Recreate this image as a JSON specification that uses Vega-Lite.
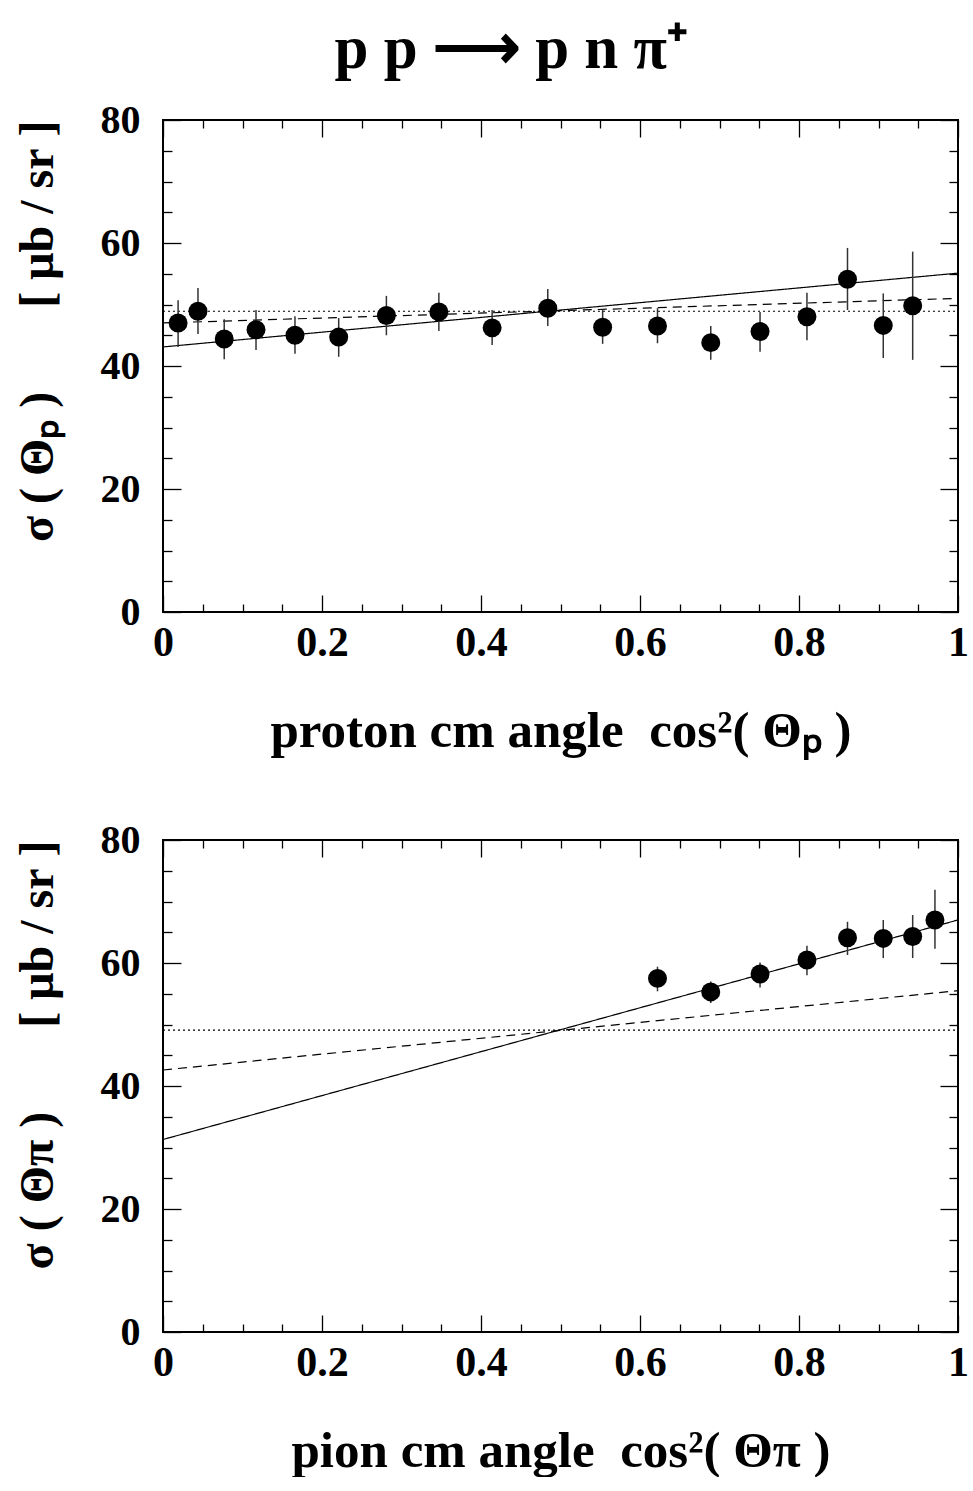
{
  "$schema": "https://vega.github.io/schema/vega-lite/v6.json",
  "background": "white",
  "padding": {"left": 12, "top": 19, "right": 12, "bottom": 0},
  "title": {"text": "p p ⟶ p n π⁺", "font": "Liberation Serif", "fontSize": 61, "fontWeight": "bold", "color": "black", "anchor": "middle", "offset": 18, "dx": 20},
  "spacing": 62,
  "datasets": {
    "top_pts": [
      {"x": 0.019, "y": 47.0, "lo": 43.1, "hi": 50.7},
      {"x": 0.044, "y": 48.9, "lo": 45.2, "hi": 52.7},
      {"x": 0.077, "y": 44.4, "lo": 41.1, "hi": 47.6},
      {"x": 0.117, "y": 45.9, "lo": 42.6, "hi": 49.1},
      {"x": 0.166, "y": 45.0, "lo": 42.0, "hi": 48.1},
      {"x": 0.221, "y": 44.7, "lo": 41.5, "hi": 47.8},
      {"x": 0.281, "y": 48.2, "lo": 45.0, "hi": 51.4},
      {"x": 0.347, "y": 48.8, "lo": 45.7, "hi": 51.9},
      {"x": 0.414, "y": 46.2, "lo": 43.4, "hi": 49.1},
      {"x": 0.484, "y": 49.4, "lo": 46.5, "hi": 52.5},
      {"x": 0.553, "y": 46.3, "lo": 43.6, "hi": 49.1},
      {"x": 0.622, "y": 46.5, "lo": 43.7, "hi": 49.4},
      {"x": 0.689, "y": 43.8, "lo": 41.0, "hi": 46.5},
      {"x": 0.751, "y": 45.6, "lo": 42.3, "hi": 48.8},
      {"x": 0.810, "y": 48.0, "lo": 44.2, "hi": 51.9},
      {"x": 0.861, "y": 54.1, "lo": 49.1, "hi": 59.2},
      {"x": 0.906, "y": 46.6, "lo": 41.3, "hi": 51.8},
      {"x": 0.943, "y": 49.8, "lo": 41.0, "hi": 58.6}
    ],
    "top_lines": [
      {"x": 0, "y": 43.1, "style": "solid"},
      {"x": 1, "y": 55.1, "style": "solid"},
      {"x": 0, "y": 47.0, "style": "dashed"},
      {"x": 1, "y": 51.0, "style": "dashed"},
      {"x": 0, "y": 48.9, "style": "dotted"},
      {"x": 1, "y": 48.9, "style": "dotted"}
    ],
    "bot_pts": [
      {"x": 0.622, "y": 57.5, "lo": 55.4, "hi": 59.4},
      {"x": 0.689, "y": 55.3, "lo": 53.5, "hi": 57.0},
      {"x": 0.751, "y": 58.2, "lo": 56.0, "hi": 60.1},
      {"x": 0.810, "y": 60.5, "lo": 58.0, "hi": 62.8},
      {"x": 0.861, "y": 64.1, "lo": 61.3, "hi": 66.7},
      {"x": 0.906, "y": 64.0, "lo": 60.8, "hi": 67.0},
      {"x": 0.943, "y": 64.3, "lo": 60.8, "hi": 67.8},
      {"x": 0.971, "y": 67.0, "lo": 62.3, "hi": 71.9}
    ],
    "bot_lines": [
      {"x": 0, "y": 31.3, "style": "solid"},
      {"x": 1, "y": 67.0, "style": "solid"},
      {"x": 0, "y": 42.6, "style": "dashed"},
      {"x": 1, "y": 55.5, "style": "dashed"},
      {"x": 0, "y": 49.1, "style": "dotted"},
      {"x": 1, "y": 49.1, "style": "dotted"}
    ]
  },
  "config": {
    "view": {"stroke": "black", "strokeWidth": 2},
    "font": "Liberation Serif",
    "axis": {"domain": false, "grid": false, "tickColor": "black", "tickWidth": 1.3, "labelFont": "Liberation Serif", "labelFontWeight": "bold", "labelColor": "black", "titleFont": "Liberation Serif", "titleFontWeight": "bold", "titleColor": "black", "labelFlush": false, "labelOverlap": false, "labelBound": false}
  },
  "vconcat": [
    {
      "width": 795, "height": 492,
      "layer": [
        {
          "data": {"name": "top_lines"},
          "mark": {"type": "line", "color": "black", "strokeWidth": 1.2},
          "encoding": {
            "x": {"field": "x", "type": "quantitative", "scale": {"domain": [0, 1], "nice": false, "zero": false},
              "axis": {"orient": "top", "values": [0,0.05,0.1,0.15,0.2,0.25,0.3,0.35,0.4,0.45,0.5,0.55,0.6,0.65,0.7,0.75,0.8,0.85,0.9,0.95,1], "labels": false, "title": null,
                "tickSize": {"condition": {"test": "round(datum.value*100) % 20 == 0", "value": -17}, "value": -8}}},
            "y": {"field": "y", "type": "quantitative", "scale": {"domain": [0, 80], "nice": false},
              "axis": {"orient": "right", "values": [0,5,10,15,20,25,30,35,40,45,50,55,60,65,70,75,80], "labels": false, "title": null,
                "tickSize": {"condition": {"test": "datum.value % 20 == 0", "value": -18}, "value": -9}}},
            "strokeDash": {"field": "style", "type": "nominal", "scale": {"domain": ["solid", "dashed", "dotted"], "range": [[1, 0], [9, 6], [2, 3]]}, "legend": null}
          }
        },
        {
          "data": {"name": "top_pts"},
          "mark": {"type": "rule", "color": "#333333", "strokeWidth": 1.5},
          "encoding": {
            "x": {"field": "x", "type": "quantitative", "axis": null},
            "y": {"field": "lo", "type": "quantitative", "axis": null},
            "y2": {"field": "hi"}
          }
        },
        {
          "data": {"name": "top_pts"},
          "mark": {"type": "circle", "size": 360, "color": "black", "opacity": 1},
          "encoding": {
            "x": {"field": "x", "type": "quantitative",
              "axis": {"orient": "bottom", "values": [0,0.05,0.1,0.15,0.2,0.25,0.3,0.35,0.4,0.45,0.5,0.55,0.6,0.65,0.7,0.75,0.8,0.85,0.9,0.95,1], "format": ".2~f",
                "labelExpr": "round(datum.value*100) % 20 == 0 ? datum.label : ''",
                "tickSize": {"condition": {"test": "round(datum.value*100) % 20 == 0", "value": -17}, "value": -8},
                "labelPadding": 27, "labelFontSize": 42,
                "title": "proton cm angle\u00a0\u00a0cos²( Θₚ )", "titleFontSize": 51, "titlePadding": 34}},
            "y": {"field": "y", "type": "quantitative",
              "axis": {"orient": "left", "values": [0,5,10,15,20,25,30,35,40,45,50,55,60,65,70,75,80],
                "labelExpr": "datum.value % 20 == 0 ? datum.label : ''",
                "tickSize": {"condition": {"test": "datum.value % 20 == 0", "value": -18}, "value": -9},
                "labelPadding": 41, "labelFontSize": 40,
                "title": "σ\u00a0( Θₚ\u00a0)\u00a0\u00a0\u00a0\u00a0\u00a0\u00a0\u00a0[\u00a0μb / sr\u00a0]", "titleFontSize": 48, "titlePadding": 38, "titleAnchor": "end"}}
          }
        }
      ],
      "resolve": {"axis": {"x": "independent", "y": "independent"}}
    },
    {
      "width": 795, "height": 492,
      "layer": [
        {
          "data": {"name": "bot_lines"},
          "mark": {"type": "line", "color": "black", "strokeWidth": 1.2},
          "encoding": {
            "x": {"field": "x", "type": "quantitative", "scale": {"domain": [0, 1], "nice": false, "zero": false},
              "axis": {"orient": "top", "values": [0,0.05,0.1,0.15,0.2,0.25,0.3,0.35,0.4,0.45,0.5,0.55,0.6,0.65,0.7,0.75,0.8,0.85,0.9,0.95,1], "labels": false, "title": null,
                "tickSize": {"condition": {"test": "round(datum.value*100) % 20 == 0", "value": -17}, "value": -8}}},
            "y": {"field": "y", "type": "quantitative", "scale": {"domain": [0, 80], "nice": false},
              "axis": {"orient": "right", "values": [0,5,10,15,20,25,30,35,40,45,50,55,60,65,70,75,80], "labels": false, "title": null,
                "tickSize": {"condition": {"test": "datum.value % 20 == 0", "value": -18}, "value": -9}}},
            "strokeDash": {"field": "style", "type": "nominal", "scale": {"domain": ["solid", "dashed", "dotted"], "range": [[1, 0], [9, 6], [2, 3]]}, "legend": null}
          }
        },
        {
          "data": {"name": "bot_pts"},
          "mark": {"type": "rule", "color": "#333333", "strokeWidth": 1.5},
          "encoding": {
            "x": {"field": "x", "type": "quantitative", "axis": null},
            "y": {"field": "lo", "type": "quantitative", "axis": null},
            "y2": {"field": "hi"}
          }
        },
        {
          "data": {"name": "bot_pts"},
          "mark": {"type": "circle", "size": 360, "color": "black", "opacity": 1},
          "encoding": {
            "x": {"field": "x", "type": "quantitative",
              "axis": {"orient": "bottom", "values": [0,0.05,0.1,0.15,0.2,0.25,0.3,0.35,0.4,0.45,0.5,0.55,0.6,0.65,0.7,0.75,0.8,0.85,0.9,0.95,1], "format": ".2~f",
                "labelExpr": "round(datum.value*100) % 20 == 0 ? datum.label : ''",
                "tickSize": {"condition": {"test": "round(datum.value*100) % 20 == 0", "value": -17}, "value": -8},
                "labelPadding": 27, "labelFontSize": 42,
                "title": "pion cm angle\u00a0\u00a0cos²( Θπ )", "titleFontSize": 51, "titlePadding": 34}},
            "y": {"field": "y", "type": "quantitative",
              "axis": {"orient": "left", "values": [0,5,10,15,20,25,30,35,40,45,50,55,60,65,70,75,80],
                "labelExpr": "datum.value % 20 == 0 ? datum.label : ''",
                "tickSize": {"condition": {"test": "datum.value % 20 == 0", "value": -18}, "value": -9},
                "labelPadding": 41, "labelFontSize": 40,
                "title": "σ\u00a0( Θπ\u00a0)\u00a0\u00a0\u00a0\u00a0\u00a0\u00a0\u00a0[\u00a0μb / sr\u00a0]", "titleFontSize": 48, "titlePadding": 38, "titleAnchor": "end"}}
          }
        }
      ],
      "resolve": {"axis": {"x": "independent", "y": "independent"}}
    }
  ]
}
